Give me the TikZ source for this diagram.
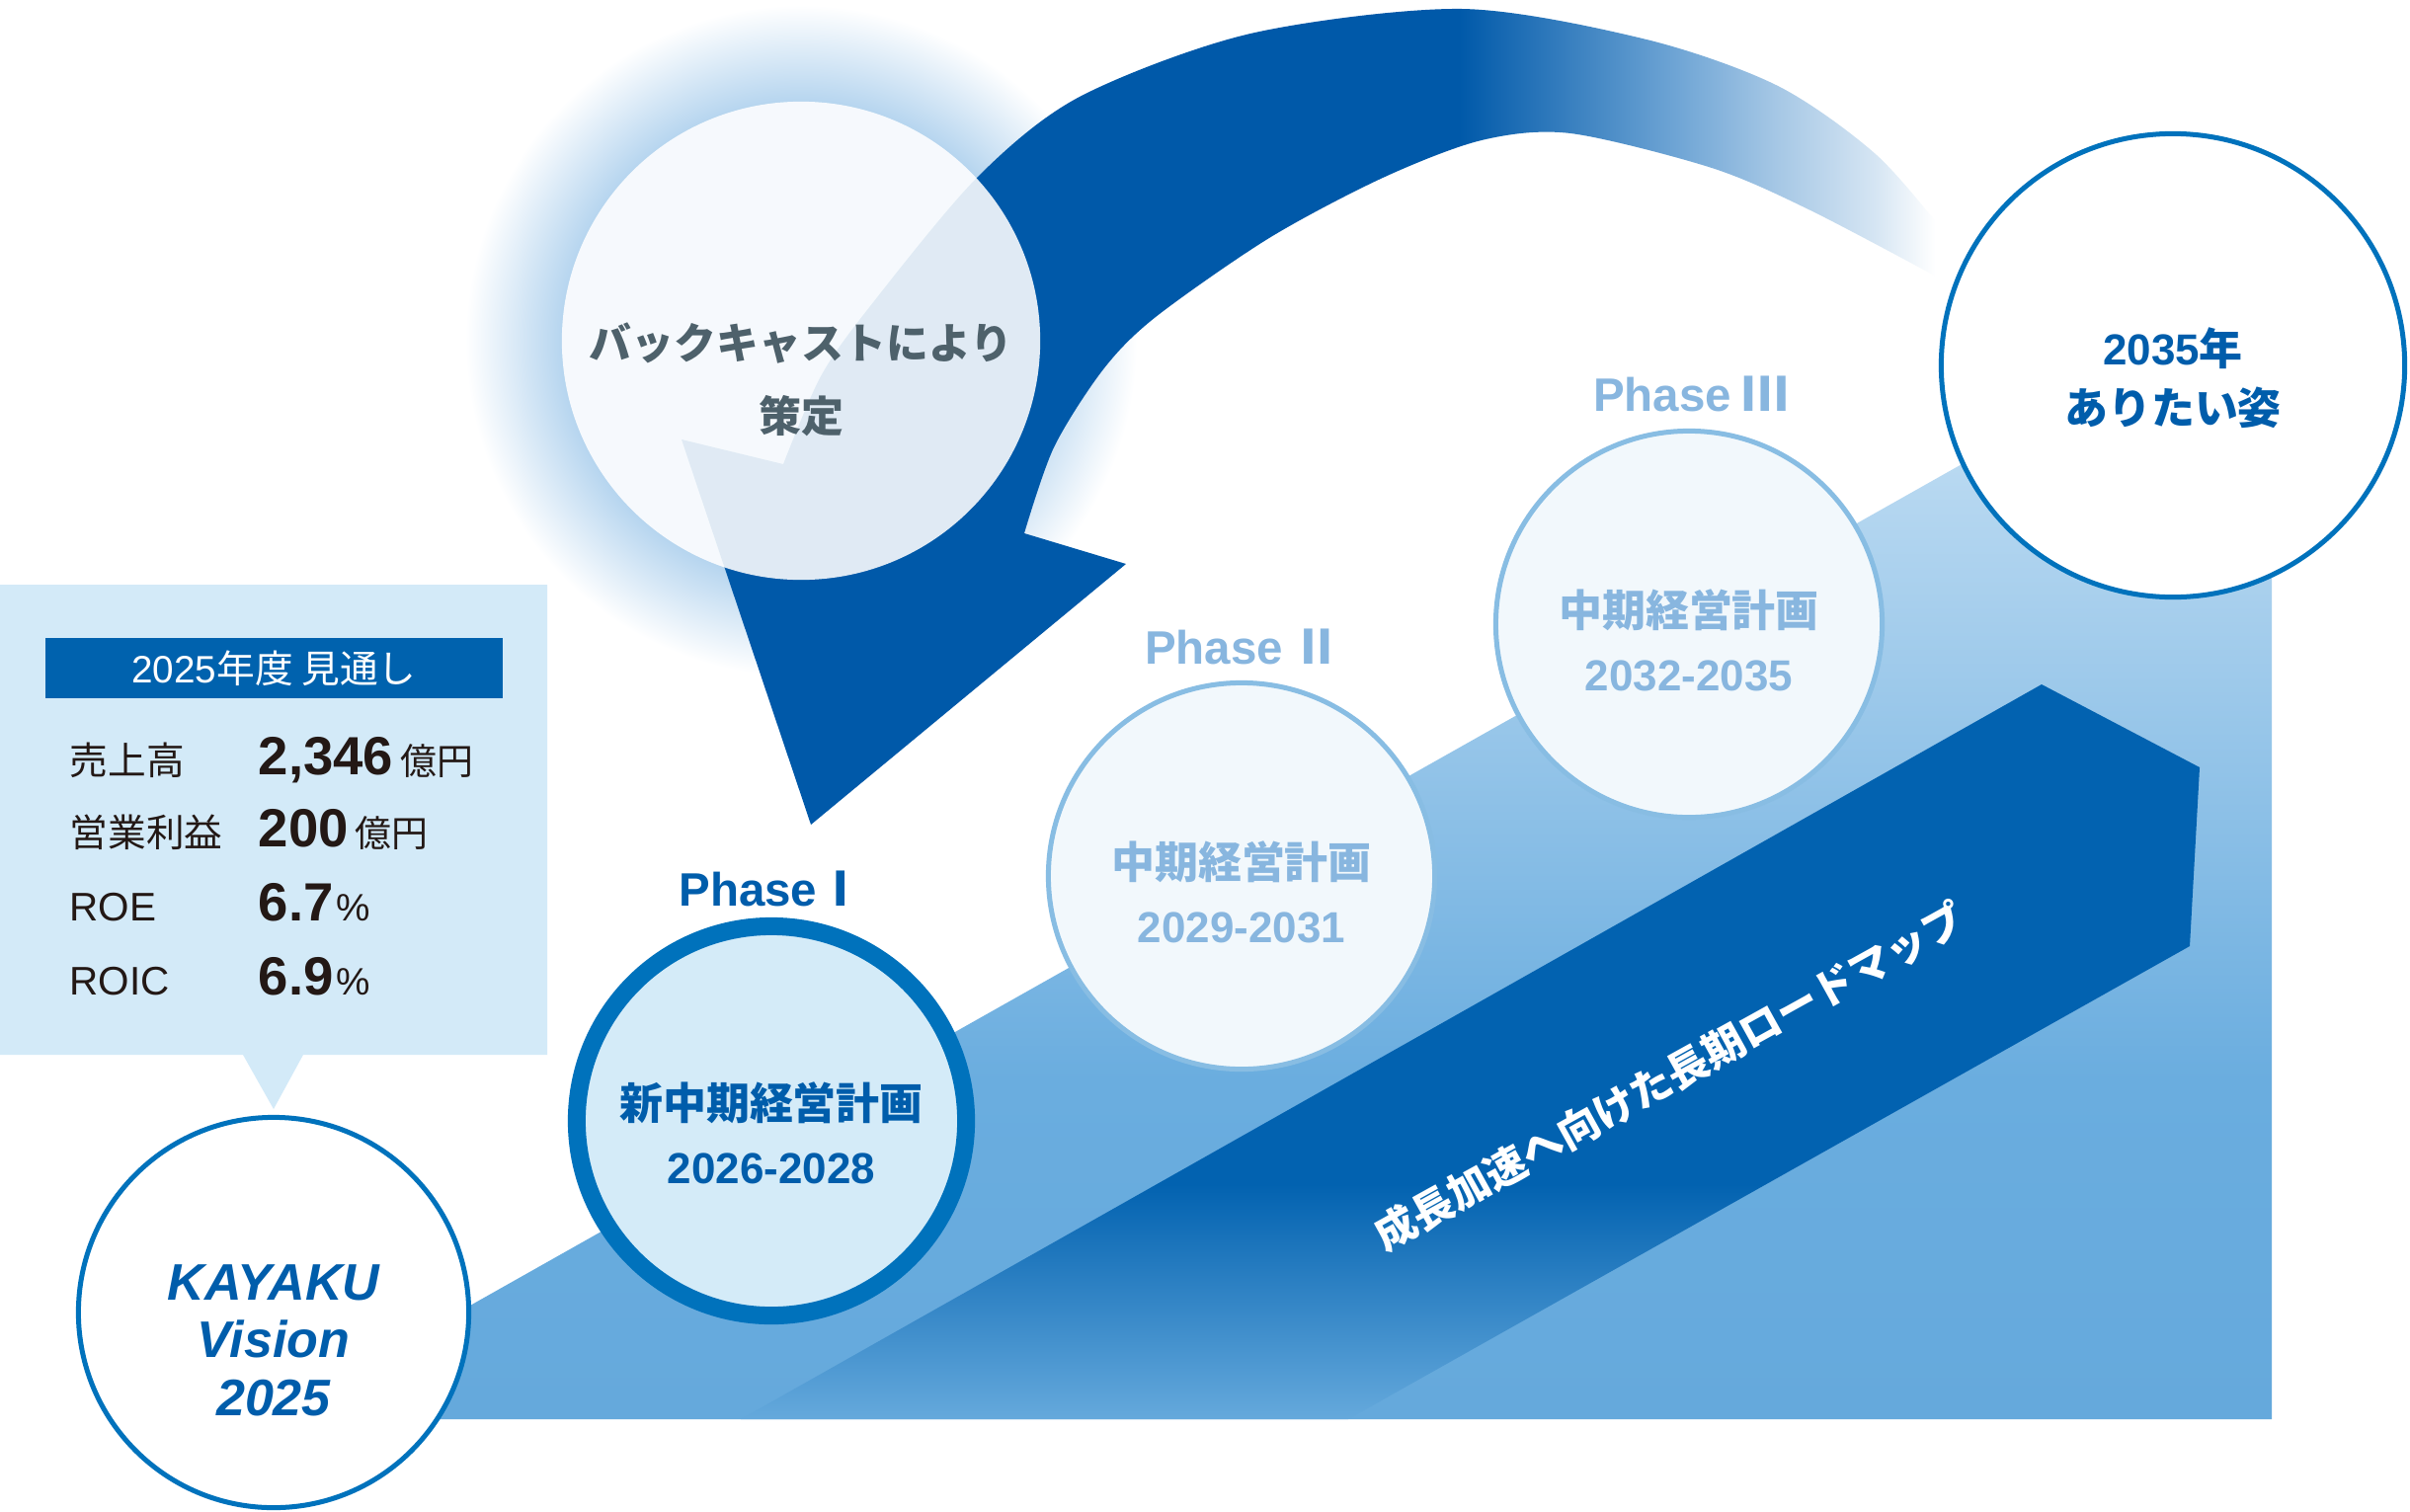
\documentclass[tikz,border=0pt]{standalone}
\usepackage{fontspec}
\setmainfont{Liberation Sans}
\newfontfamily\jp{Noto Sans CJK JP}
\usetikzlibrary{positioning}

\definecolor{kblue}{HTML}{0072BC}
\definecolor{kdark}{HTML}{005DAB}
\definecolor{arrowblue}{HTML}{0059A9}
\definecolor{arrowmid}{HTML}{6FA5D5}
\definecolor{arrowpale}{HTML}{A5C7E5}
\definecolor{arrowlight}{HTML}{D5E5F3}
\definecolor{bandblue}{HTML}{0262B0}
\definecolor{rampdark}{HTML}{65A9DC}
\definecolor{rampmid}{HTML}{6AADDF}
\definecolor{ramplight}{HTML}{A4CDEC}
\definecolor{ramptop}{HTML}{CFE6F7}
\definecolor{glowblue}{HTML}{B6D5EF}
\definecolor{infofill}{HTML}{D3EAF8}
\definecolor{headblue}{HTML}{0062AE}
\definecolor{darktext}{HTML}{231815}
\definecolor{palefill}{HTML}{F2F8FC}
\definecolor{paleline}{HTML}{88BDE3}
\definecolor{paletext}{HTML}{88B6DF}
\definecolor{pfill}{HTML}{D4EBF8}
\definecolor{graytext}{HTML}{4E616B}

% the path's box takes the shading from 25bp to 75bp
\pgfdeclareverticalshading{rampfade}{100bp}{color(0bp)=(rampdark); color(25bp)=(rampdark); color(40bp)=(rampmid); color(60bp)=(ramplight); color(75bp)=(ramptop); color(100bp)=(ramptop)}
\pgfdeclareverticalshading{bandfade}{100bp}{color(0bp)=(rampdark); color(25bp)=(rampdark); color(41bp)=(bandblue); color(100bp)=(bandblue)}
\pgfdeclarehorizontalshading{arrowfade}{100bp}{color(0bp)=(arrowblue); color(55.7bp)=(arrowblue); color(64.3bp)=(arrowmid); color(68.2bp)=(arrowpale); color(72.1bp)=(arrowlight); color(74.5bp)=(white); color(100bp)=(white)}
\pgfdeclareradialshading{glow}{\pgfpoint{0bp}{0bp}}{color(0bp)=(glowblue); color(17.8bp)=(glowblue); color(25bp)=(white); color(50bp)=(white)}

\newcommand{\bignum}[1]{{\fontsize{15.5}{18}\selectfont\bfseries #1}}
\newcommand{\oku}{\hspace{2pt}{\jp\fontsize{10.5}{12}\selectfont 億円}}
\newcommand{\pct}{\hspace{1pt}{\fontsize{11}{12}\selectfont\%}}

\begin{document}
\begin{tikzpicture}[x=0.01cm, y=-0.01cm, every node/.style={inner sep=0pt}]

  \tikzstyle{ring}=[circle, draw=kblue, line width=0.05cm, fill=white, minimum size=4.69cm]
  \tikzstyle{phase}=[circle, draw=paleline, line width=0.05cm, fill=palefill, minimum size=3.91cm]
  \tikzstyle{phaselabel}=[anchor=base, font=\fontsize{13.5}{16}\selectfont\bfseries]
  \tikzstyle{circtext}=[align=center, font=\fontsize{12.5}{18.5}\selectfont\bfseries]
  \tikzstyle{row}=[anchor=base west, text=darktext, font=\jp\fontsize{11}{13}\selectfont]
  \tikzstyle{val}=[anchor=base west, text=darktext]

  \path[use as bounding box, fill=white] (0,0) rectangle (2440,1530);

  % ramp and roadmap band
  \shade[shading=rampfade] (272,1437) -- (2300,293) -- (2300,1437) -- cycle;
  \shade[shading=bandfade] (750,1437) -- (2067,693) -- (2227,777) -- (2217,958) -- (1365,1437) -- cycle;
  \node[rotate=29, text=white, font=\jp\fontsize{12}{14}\selectfont\bfseries] (road) at (1690,1090) {成長加速へ向けた長期ロードマップ};

  % backcast arrow
  \shade[shading=glow] (811,345) circle[radius=340];
  \shade[shading=arrowfade] (821,835) -- (690,445)
    -- plot[smooth] coordinates {(793,470) (831,381) (881,310) (989,180) (1093,98) (1266,34) (1480,9) (1667,40) (1800,87) (1900,157) (1972,240)}
    -- plot[smooth] coordinates {(1966,283) (1833,213) (1733,170) (1590,135) (1500,142) (1400,180) (1285,241) (1170,321) (1117,374) (1067,453) (1037,540)}
    -- (1140,571) -- cycle;
  \node[circle, fill=white, fill opacity=0.88, minimum size=4.84cm] (back) at (811,345) {};
  \node[align=center, text=graytext, font=\jp\fontsize{12.2}{21}\selectfont\bfseries] (backtxt) at (811,384) {バックキャストにより\\策定};

  % outlook box
  \fill[infofill] (0,592) -- (554,592) -- (554,1068) -- (307,1068) -- (277,1123) -- (246,1068) -- (0,1068) -- cycle;
  \node[fill=headblue, minimum width=4.63cm, minimum height=0.61cm, text=white, font=\fontsize{11}{13}\selectfont] (head) at (277.5,676.5) {2025{\jp 年度 見通し}};
  \node[row] (sales) at (70,784) {売上高};
  \node[row] (op) at (70,857) {営業利益};
  \node[row, font=\fontsize{11.5}{13}\selectfont] (roe) at (70,932) {ROE};
  \node[row, font=\fontsize{11.5}{13}\selectfont] (roic) at (70,1007) {ROIC};
  \node[val] (salesv) at (261,784) {\bignum{2,346}\oku};
  \node[val] (opv) at (261,857) {\bignum{200}\oku};
  \node[val] (roev) at (261,932) {\bignum{6.7}\pct};
  \node[val] (roicv) at (261,1007) {\bignum{6.9}\pct};

  % circles
  \node[ring, minimum size=3.95cm] (vision) at (277,1329) {};
  \node[align=center, text=kdark, font=\fontsize{14.8}{16.6}\selectfont\bfseries\itshape] (visiontxt) at (277,1357) {KAYAKU\\Vision\\2025};

  \node[circle, draw=kblue, line width=0.18cm, fill=pfill, minimum size=3.94cm] (p1) at (781,1135) {};
  \node[phase] (p2) at (1257,887) {};
  \node[phase] (p3) at (1710,632) {};
  \node[ring] (goal) at (2200,370) {};

  \node[phaselabel, text=kdark] (l1) at (781,917) {Phase{\jp Ⅰ}};
  \node[phaselabel, text=paletext] (l2) at (1258,672) {Phase\hspace{3pt}{\jp Ⅱ}};
  \node[phaselabel, text=paletext] (l3) at (1712,416) {Phase\hspace{3pt}{\jp Ⅲ}};

  \node[circtext, text=kdark] (p1txt) at (781,1147) {{\jp 新中期経営計画}\\2026-2028};
  \node[circtext, text=paletext] (p2txt) at (1257,903) {{\jp 中期経営計画}\\2029-2031};
  \node[circtext, text=paletext] (p3txt) at (1710,648) {{\jp 中期経営計画}\\2032-2035};
  \node[circtext, text=kdark, font=\fontsize{12.5}{17}\selectfont\bfseries] (goaltxt) at (2200,383) {2035{\jp 年}\\{\jp ありたい姿}};

\end{tikzpicture}
\end{document}
